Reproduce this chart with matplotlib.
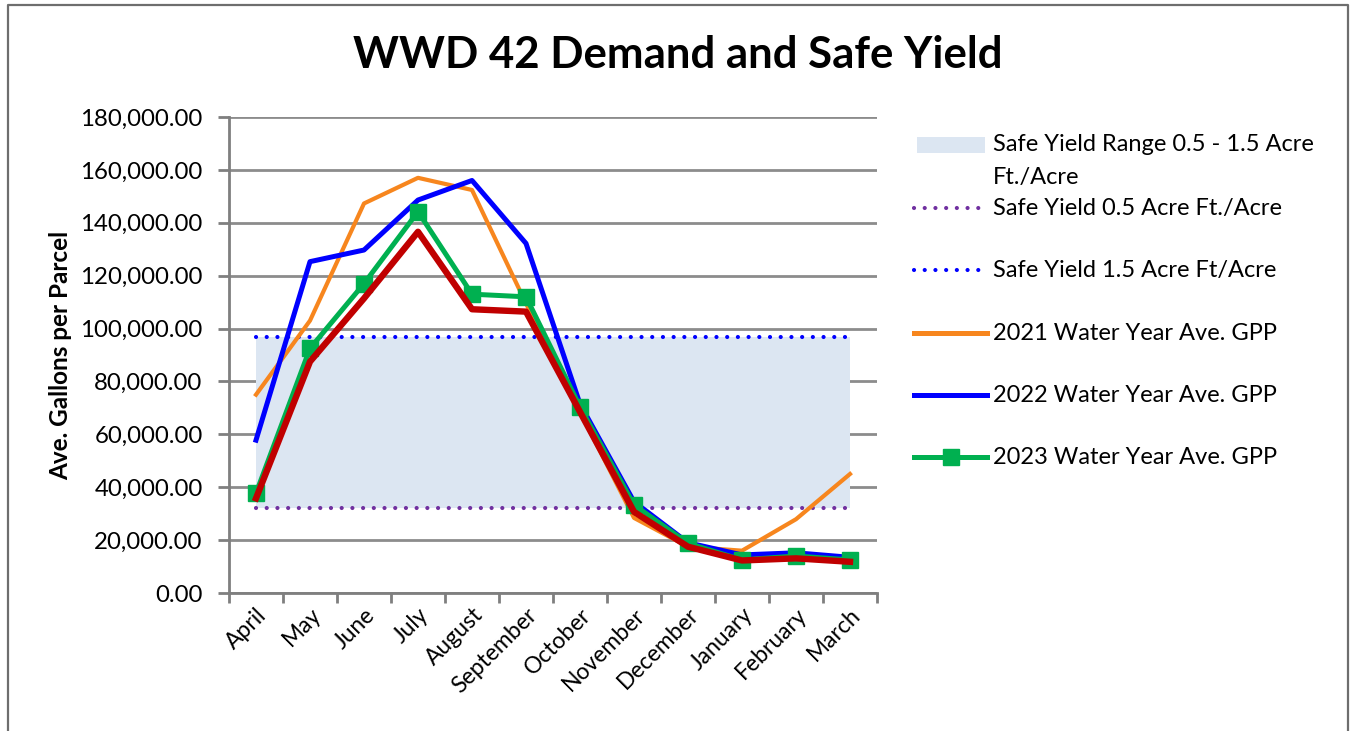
"""WWD 42 demand and safe yield chart."""

from matplotlib import pyplot
from matplotlib.lines import Line2D
from matplotlib.patches import Rectangle
import matplotlib.ticker as mticker

months = ['April', 'May', 'June', 'July', 'August', 'September', 'October',
          'November', 'December', 'January', 'February', 'March']

gpp_2021 = [75000, 103000, 147300, 157000, 152400, 109500, 68500,
            28400, 17500, 16000, 27900, 45000]
gpp_2022 = [57800, 125300, 129700, 148600, 156000, 132200, 71500,
            34500, 19000, 14400, 15200, 13500]
gpp_2023 = [37700, 92500, 117000, 144200, 113000, 112000, 70400,
            33300, 18800, 12500, 14000, 12500]
gpp_red = [35800, 87500, 111400, 136600, 107300, 106400, 68500,
           30700, 17500, 12300, 13100, 11800]

safe_low = 32300
safe_high = 96900

legend_labels = ['Safe Yield Range 0.5 - 1.5 Acre\nFt./Acre',
                 'Safe Yield 0.5 Acre Ft./Acre',
                 'Safe Yield 1.5 Acre Ft/Acre',
                 '2021 Water Year Ave. GPP',
                 '2022 Water Year Ave. GPP',
                 '2023 Water Year Ave. GPP']

pyplot.rc('font', family=['Lato', 'DejaVu Sans'])

W, H = 1356, 731
fig = pyplot.figure(figsize=(W / 100, H / 100), dpi=100)
ax = fig.add_axes([229 / W, 1 - 593 / H, (877 - 229) / W, (593 - 117) / H])

x = list(range(len(months)))
dot = (0, (0.01, 2.56))

ax.fill_between([x[0], x[-1]], safe_low, safe_high, color='#DCE6F2',
                linewidth=0, zorder=1)
ax.plot([x[0], x[-1]], [safe_low] * 2, color='#7030A0', lw=3.0,
        linestyle=dot, dash_capstyle='round', zorder=2)
ax.plot([x[0], x[-1]], [safe_high] * 2, color='#0000FF', lw=3.0,
        linestyle=dot, dash_capstyle='round', zorder=2)
ax.plot(x, gpp_2021, color='#F7861E', lw=3.0, zorder=3)
ax.plot(x, gpp_2022, color='#0000FF', lw=3.6, zorder=4)
ax.plot(x, gpp_2023, color='#00B050', lw=3.6, marker='s', markersize=11,
        zorder=5)
ax.plot(x, gpp_red, color='#C00000', lw=4.6, zorder=6)

ax.set_xlim(-0.5, len(months) - 0.5)
ax.set_ylim(0, 180000)
ax.yaxis.set_major_locator(mticker.MultipleLocator(20000))
ax.yaxis.set_major_formatter(mticker.StrMethodFormatter('{x:,.2f}'))
ax.set_xticks([i - 0.5 for i in range(len(months) + 1)])
ax.set_xticklabels([])
ax.set_xticks(x, minor=True)
ax.set_xticklabels(months, minor=True, rotation=45, ha='right',
                   va='top', rotation_mode='anchor', fontsize=16.5)
ax.tick_params(axis='x', which='minor', length=0, pad=8)
ax.tick_params(axis='x', which='major', length=7, width=2, color='#7F7F7F')
ax.tick_params(axis='y', which='major', length=8, width=2, color='#7F7F7F',
               labelsize=17.3, pad=11)
ax.grid(axis='y', color='#8C8C8C', lw=2, zorder=0)
ax.set_axisbelow(True)
for side in ['top', 'right']:
    ax.spines[side].set_visible(False)
for side in ['left', 'bottom']:
    ax.spines[side].set_color('#7F7F7F')
    ax.spines[side].set_linewidth(2)
ax.set_ylabel('Ave. Gallons per Parcel', fontsize=17.5, fontweight='bold')
ax.yaxis.set_label_coords((72 - 229) / 648, 0.5)

fig.text(0.5, 1 - 55 / H, 'WWD 42 Demand and Safe Yield', fontsize=31.5,
         fontweight='bold', ha='center', va='center')

# Legend drawn by hand to match the uneven spacing of the original.
leg_y = [161, 208, 270, 333, 395, 457]
x0, x1, tx = 914 / W, 987 / W, 993 / W
for i, (label, yp) in enumerate(zip(legend_labels, leg_y)):
    yf = 1 - yp / H
    if i == 0:
        fig.add_artist(Rectangle((917 / W, 1 - 153 / H), 68 / W, 16 / H,
                                 facecolor='#DCE6F2', edgecolor='none'))
        fig.text(tx, yf, label, fontsize=17, ha='left', va='center',
                 linespacing=1.75)
        continue
    if i == 1:
        art = Line2D([x0, x1], [yf, yf], color='#7030A0', lw=3.0,
                     linestyle=dot, dash_capstyle='round')
    elif i == 2:
        art = Line2D([x0, x1], [yf, yf], color='#0000FF', lw=3.0,
                     linestyle=dot, dash_capstyle='round')
    elif i == 3:
        art = Line2D([x0, x1], [yf, yf], color='#F7861E', lw=3.6)
    elif i == 4:
        art = Line2D([x0, x1], [yf, yf], color='#0000FF', lw=3.6)
    else:
        art = Line2D([x0, (x0 + x1) / 2, x1], [yf] * 3, color='#00B050',
                     lw=3.6, marker='s', markersize=11, markevery=[1])
    fig.add_artist(art)
    fig.text(tx, yf, label, fontsize=17, ha='left', va='center')

# Outer chart border (top, left, right).
fig.add_artist(Line2D([8 / W, 8 / W, 1348 / W, 1348 / W],
                      [0, 1 - 5 / H, 1 - 5 / H, 0], color='#6E6E6E', lw=1.6))

fig.savefig('out.png', dpi=100)
